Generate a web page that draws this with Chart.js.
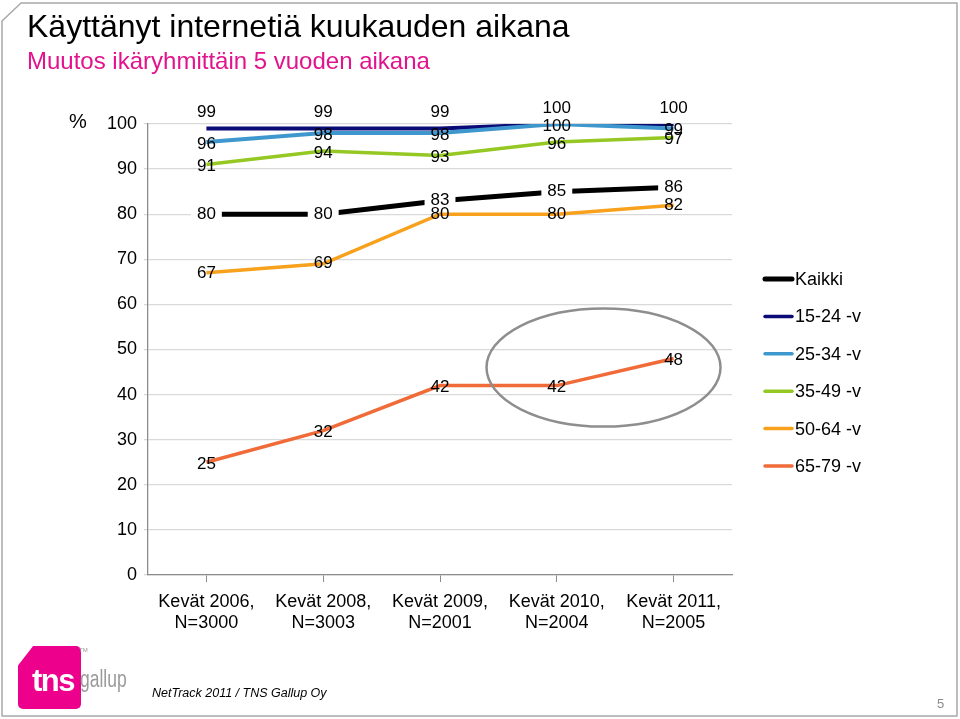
<!DOCTYPE html>
<html>
<head>
<meta charset="utf-8">
<script src="https://cdn.jsdelivr.net/npm/chart.js@4.4.0/dist/chart.umd.min.js"></script>
<style>
  body { margin: 0; background: #fff; font-family: "Liberation Sans", Arial, sans-serif; }
  #page { position: relative; width: 960px; height: 719px; overflow: hidden; }
  #chart { position: absolute; left: 0; top: 0; }
  .txt { position: absolute; white-space: nowrap; line-height: 1; }
  #title { left: 27px; top: 10px; font-size: 32px; color: #000; }
  #subtitle { left: 27px; top: 49px; font-size: 24px; color: #e2138c; }
  #pct { left: 69px; top: 111px; font-size: 20px; color: #000; }
  #logo { position: absolute; left: 18px; top: 646px; width: 63px; height: 63px; background: #ec008c;
          clip-path: polygon(0 31%, 24% 0, 100% 0, 100% 100%, 0 100%); border-radius: 5px; }
  #tns { left: 32px; top: 665px; font-size: 31px; font-weight: bold; color: #fff; letter-spacing: -1.5px; }
  #tm { left: 79px; top: 647px; font-size: 6px; color: #999; }
  #gallup { left: 80px; top: 668px; font-size: 23px; color: #9a9a9a; transform: scaleX(0.76); transform-origin: 0 0; }
  #source { left: 152px; top: 687px; font-size: 12.5px; font-style: italic; color: #000; }
  #pageno { left: 937px; top: 697px; font-size: 13px; color: #8c8c8c; }
  #frame { position: absolute; left: 0; top: 0; }
</style>
</head>
<body>
<div id="page">
  <svg id="frame" width="960" height="719">
    <path d="M2,21 L21,3 L957,3 L957,716 L2,716 Z" fill="none" stroke="#a8a8a8" stroke-width="1.5" stroke-linejoin="round"/>
  </svg>
  <canvas id="chart" width="960" height="719"></canvas>
  <div class="txt" id="title">Käyttänyt internetiä kuukauden aikana</div>
  <div class="txt" id="subtitle">Muutos ikäryhmittäin 5 vuoden aikana</div>
  <div class="txt" id="pct">%</div>
  <div id="logo"></div>
  <div class="txt" id="tns">tns</div>
  <div class="txt" id="tm">TM</div>
  <div class="txt" id="gallup">gallup</div>
  <div class="txt" id="source">NetTrack 2011 / TNS Gallup Oy</div>
  <div class="txt" id="pageno">5</div>
</div>
<script>
// kategoriat ja sarjat
const categories = [
  ["Kevät 2006,", "N=3000"],
  ["Kevät 2008,", "N=3003"],
  ["Kevät 2009,", "N=2001"],
  ["Kevät 2010,", "N=2004"],
  ["Kevät 2011,", "N=2005"]
];
const kaikki = [80, 80, 83, 85, 86];
const ika15_24 = [99, 99, 99, 100, 100];
const ika25_34 = [96, 98, 98, 100, 99];
const ika35_49 = [91, 94, 93, 96, 97];
const ika50_64 = [67, 69, 80, 80, 82];
const ika65_79 = [25, 32, 42, 42, 48];
const yTicks = [0, 10, 20, 30, 40, 50, 60, 70, 80, 90, 100];

const FONT = '"Liberation Sans", Arial, sans-serif';
Chart.defaults.font.family = FONT;

// arvot pisteiden kohdalle (Kaikki-sarjalla valkoinen tausta)
const valueLabels = {
  id: "valueLabels",
  afterDatasetsDraw(chart) {
    const ctx = chart.ctx;
    ctx.save();
    ctx.font = "17px " + FONT;
    ctx.textAlign = "center";
    ctx.textBaseline = "middle";
    const items = [];
    chart.data.datasets.forEach((ds, i) => {
      chart.getDatasetMeta(i).data.forEach((pt, j) => {
        items.push({ ds, x: pt.x, y: pt.y + ds.labelShift, txt: String(ds.data[j]) });
      });
    });
    items.forEach(it => {
      if (!it.ds.labelBox) return;
      const w = ctx.measureText(it.txt).width + 12;
      ctx.fillStyle = "#fff";
      ctx.fillRect(it.x - w / 2, it.y - 9, w, 18);
    });
    ctx.fillStyle = "#000";
    items.forEach(it => ctx.fillText(it.txt, it.x, it.y));
    ctx.restore();
  }
};

// harmaa ellipsi vuosien 2010-2011 ympärillä
const highlight = {
  id: "highlight",
  afterDatasetsDraw(chart) {
    const { ctx, scales } = chart;
    const cx = scales.x.getPixelForValue(3.4);
    const cy = scales.y.getPixelForValue(46);
    ctx.save();
    ctx.strokeStyle = "#8e8e8e";
    ctx.lineWidth = 2.5;
    ctx.beginPath();
    ctx.ellipse(cx, cy, 117, 59, 0, 0, Math.PI * 2);
    ctx.stroke();
    ctx.restore();
  }
};

// selite oikealla
const sideLegend = {
  id: "sideLegend",
  afterDraw(chart) {
    const { ctx, chartArea } = chart;
    ctx.save();
    ctx.font = "18px " + FONT;
    ctx.textAlign = "left";
    ctx.textBaseline = "middle";
    chart.data.datasets.forEach((ds, i) => {
      const y = chartArea.top + 155 + i * 37.4;
      const x = chartArea.right + 33;
      ctx.strokeStyle = ds.borderColor;
      ctx.lineWidth = ds.legendWidth;
      ctx.lineCap = "round";
      ctx.beginPath();
      ctx.moveTo(x, y);
      ctx.lineTo(x + 27, y);
      ctx.stroke();
      ctx.fillStyle = "#000";
      ctx.fillText(ds.label, x + 30, y + 1);
    });
    ctx.restore();
  }
};

function series(label, data, color, width, order, shift, box, legendWidth) {
  return {
    label, data,
    borderColor: color,
    backgroundColor: color,
    borderWidth: width,
    pointRadius: 0,
    tension: 0,
    order,
    labelShift: shift,
    labelBox: box,
    legendWidth
  };
}

new Chart(document.getElementById("chart"), {
  type: "line",
  data: {
    labels: categories,
    datasets: [
      series("Kaikki", kaikki, "#000000", 5, 0, 0, true, 5),
      series("15-24 -v", ika15_24, "#0b0b78", 4, 2, -16, false, 3.5),
      series("25-34 -v", ika25_34, "#3e98cd", 4, 1, 2, false, 3.5),
      series("35-49 -v", ika35_49, "#95c822", 3.5, 3, 2, false, 3.5),
      series("50-64 -v", ika50_64, "#f7a11d", 3.5, 4, 0, false, 3.5),
      series("65-79 -v", ika65_79, "#f06b38", 3.5, 5, 2, false, 3.5)
    ]
  },
  options: {
    responsive: false,
    animation: false,
    layout: { padding: { left: 60, top: 124, right: 228, bottom: 74 } },
    plugins: {
      legend: { display: false },
      tooltip: { enabled: false }
    },
    scales: {
      x: {
        offset: true,
        grid: { drawOnChartArea: false, offset: false, tickLength: 7, color: "#8c8c8c" },
        border: { color: "#8c8c8c", width: 1.3 },
        ticks: { color: "#000", font: { size: 18 }, padding: 9, maxRotation: 0, autoSkip: false },
        afterFit(s) { s.height = 70; }
      },
      y: {
        min: 0,
        max: 100,
        afterBuildTicks(s) { s.ticks = yTicks.map(v => ({ value: v })); },
        grid: { color: "#d9d9d9", lineWidth: 1.3, tickLength: 4 },
        border: { color: "#8c8c8c", width: 1.3 },
        ticks: { color: "#000", font: { size: 18 }, padding: 7 },
        afterFit(s) { s.width = 88; }
      }
    }
  },
  plugins: [valueLabels, highlight, sideLegend]
});
</script>
</body>
</html>
